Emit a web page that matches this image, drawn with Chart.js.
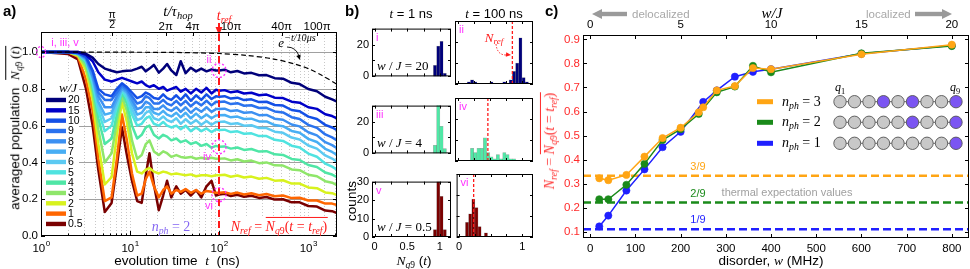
<!DOCTYPE html>
<html>
<head>
<meta charset="utf-8">
<script src="https://cdn.jsdelivr.net/npm/chart.js@4.4.1/dist/chart.umd.min.js"></script>
<style>
  html, body { margin: 0; padding: 0; background: #fff; }
  body { width: 970px; height: 269px; position: relative; overflow: hidden; font-family: "Liberation Sans", Arial, sans-serif; color: #000; }
  .cv { position: absolute; }
  .cv canvas { display: block; }
  .t { position: absolute; white-space: nowrap; line-height: 1; transform: translate(-50%, -50%); z-index: 5; }
  .t.l { transform: translate(0, -50%); }
  .t.v { transform: translate(-50%, -50%) rotate(-90deg); }
  .pl { position: absolute; font-weight: bold; font-size: 15px; line-height: 1; z-index: 5; }
  .m { font-family: "Liberation Serif", "DejaVu Serif", serif; font-style: italic; }
  .s { font-family: "Liberation Serif", "DejaVu Serif", serif; }
  .u { font-style: normal; }
  .ov { display: inline-block; border-top: 1px solid currentColor; padding-top: 1px; line-height: 1.15; }
  sub { font-size: 70%; vertical-align: -0.3em; line-height: 0; }
  sup { font-size: 78%; vertical-align: 0.55em; line-height: 0; }
</style>
</head>
<body>
<div class="cv" style="left:0;top:0"><canvas id="chartA" width="345" height="269"></canvas></div>
<div class="cv" style="left:540px;top:0"><canvas id="chartC" width="430" height="269"></canvas></div>

<!-- panel a text -->
<div class="pl" style="left:3px;top:3px">a)</div>
<div class="t m" style="left:178px;top:11px;font-size:15px">t/τ<sub>hop</sub></div>
<div class="t m" style="left:224px;top:16px;font-size:14px;color:#ff1a1a">t<sub>ref</sub></div>
<div class="t m" style="left:297px;top:42px;font-size:13px">e<sup>−t/10μs</sup></div>
<div class="t v" style="left:14px;top:128px;font-size:13.5px">averaged population&nbsp;&nbsp;<span class="m ov">N<sub>q<span class="u">9</span></sub><span class="u">&thinsp;(</span>t<span class="u">)</span></span></div>
<div class="t" style="left:177px;top:261px;font-size:13.5px">evolution time&nbsp; <span class="m">t</span>&nbsp; (ns)</div>
<div class="t m" style="left:171px;top:227px;font-size:14px;color:#8466f2;background:#fff;padding:0 2px">n<sub>ph</sub><span class="u"> = 2</span></div>
<div class="t m" style="left:279px;top:226px;font-size:14px;color:#ff1a1a;background:#fff;padding:0 2px">N<sub>ref</sub><span class="u"> = </span><span class="ov">N<sub>q<span class="u">9</span></sub><span class="u">(</span>t<span class="u"> = </span>t<sub>ref</sub><span class="u">)</span></span></div>

<!-- panel b text -->
<div class="pl" style="left:345px;top:3px">b)</div>
<div class="t" style="left:411px;top:13px;font-size:13px"><span class="m">t</span> = 1 ns</div>
<div class="t" style="left:494px;top:13px;font-size:13px"><span class="m">t</span> = 100 ns</div>
<div class="t v" style="left:352px;top:201px;font-size:13.5px">counts</div>
<div class="t" style="left:414px;top:261px;font-size:13.5px"><span class="m">N<sub>q<span class="u">9</span></sub></span> (<span class="m">t</span>)</div>
<div class="t m" style="left:494px;top:37px;font-size:13px;color:#ff1a1a">N<sub>ref</sub></div>

<!-- panel c text -->
<div class="pl" style="left:545px;top:3px">c)</div>
<div class="t m" style="left:772px;top:13px;font-size:15px">w/J</div>
<div class="t v" style="left:549px;top:141px;font-size:14px;color:#ff2a2a"><span class="m">N<sub>ref</sub></span><span class="s"> = </span><span class="m ov">N<sub>q<span class="u">9</span></sub><span class="u">(</span>t<span class="u"> = </span>t<sub>ref</sub><span class="u">)</span></span></div>
<div class="t" style="left:771px;top:261px;font-size:13.5px">disorder, <span class="m">w</span> (MHz)</div>
<div class="t l m" style="left:782px;top:102px;font-size:14px">n<sub>ph</sub><span class="u"> = 3</span></div>
<div class="t l m" style="left:782px;top:122px;font-size:14px">n<sub>ph</sub><span class="u"> = 2</span></div>
<div class="t l m" style="left:782px;top:143px;font-size:14px">n<sub>ph</sub><span class="u"> = 1</span></div>
<div class="t m" style="left:840px;top:87px;font-size:12px">q<sub class="u">1</sub></div>
<div class="t m" style="left:955px;top:87px;font-size:12px">q<sub class="u">9</sub></div>

<script>
// ---------- panel a: averaged population vs evolution time ----------
const T_NS = [1, 2, 2.6, 3.2, 3.8, 4.4, 5.2, 6.2, 7.1, 8.1, 9.2, 10.5, 12, 13.5, 15, 16.5, 18.5, 21, 23.5, 26,
  29, 33, 37, 42, 48, 55, 63, 72, 82, 92, 100, 115, 135, 160, 190, 230, 280, 340, 420, 520,
  650, 800, 1000, 1250, 1550, 1850, 2100];

const W20 = [1.0, 1.0, 1.0, 0.99, 0.97, 0.935, 0.91, 0.898, 0.89, 0.895, 0.898, 0.90, 0.91, 0.92, 0.895, 0.91, 0.93, 0.888, 0.91, 0.935,
  0.90, 0.875, 0.95, 0.885, 0.915, 0.895, 0.91, 0.895, 0.905, 0.90,
  0.90, 0.904, 0.89, 0.897, 0.884, 0.887, 0.874, 0.875, 0.858, 0.855, 0.833, 0.826, 0.799, 0.787, 0.757, 0.743, 0.73];
const W15 = [1.0, 1.0, 1.0, 0.985, 0.95, 0.89, 0.85, 0.84, 0.85, 0.86, 0.85, 0.84, 0.83, 0.84, 0.82, 0.81, 0.82, 0.80, 0.81, 0.79,
  0.80, 0.81, 0.785, 0.80, 0.775, 0.80, 0.78, 0.805, 0.775, 0.795,
  0.79, 0.793, 0.781, 0.787, 0.775, 0.779, 0.765, 0.769, 0.752, 0.75, 0.73, 0.725, 0.70, 0.691, 0.662, 0.652, 0.64];
const W10 = [1.0, 1.0, 0.995, 0.975, 0.90, 0.80, 0.77, 0.76, 0.80, 0.83, 0.81, 0.78, 0.75, 0.76, 0.78, 0.77, 0.75, 0.745, 0.77, 0.75,
  0.74, 0.765, 0.74, 0.77, 0.735, 0.765, 0.74, 0.77, 0.745, 0.76,
  0.757, 0.76, 0.747, 0.752, 0.739, 0.743, 0.728, 0.73, 0.712, 0.709, 0.685, 0.678, 0.649, 0.636, 0.604, 0.59, 0.576];
const W9 = [1.0, 1.0, 0.995, 0.97, 0.89, 0.78, 0.74, 0.74, 0.78, 0.82, 0.80, 0.76, 0.72, 0.73, 0.76, 0.75, 0.72, 0.72, 0.74, 0.72,
  0.71, 0.735, 0.71, 0.735, 0.705, 0.73, 0.71, 0.735, 0.71, 0.73,
  0.728, 0.731, 0.717, 0.722, 0.708, 0.711, 0.696, 0.697, 0.677, 0.672, 0.646, 0.636, 0.604, 0.588, 0.552, 0.536, 0.52];
const W8 = [1.0, 1.0, 0.995, 0.965, 0.87, 0.76, 0.70, 0.70, 0.76, 0.81, 0.79, 0.74, 0.69, 0.70, 0.73, 0.72, 0.69, 0.69, 0.71, 0.69,
  0.68, 0.70, 0.675, 0.70, 0.67, 0.695, 0.675, 0.70, 0.675, 0.69,
  0.69, 0.692, 0.679, 0.683, 0.67, 0.673, 0.657, 0.658, 0.638, 0.632, 0.606, 0.596, 0.564, 0.547, 0.51, 0.494, 0.477];
const W7 = [1.0, 1.0, 0.99, 0.96, 0.86, 0.73, 0.66, 0.67, 0.74, 0.80, 0.78, 0.72, 0.66, 0.67, 0.70, 0.70, 0.67, 0.66, 0.68, 0.66,
  0.65, 0.67, 0.645, 0.67, 0.64, 0.665, 0.64, 0.66, 0.64, 0.655,
  0.656, 0.658, 0.645, 0.649, 0.636, 0.638, 0.623, 0.623, 0.603, 0.597, 0.571, 0.561, 0.528, 0.511, 0.474, 0.457, 0.44];
const W6 = [1.0, 1.0, 0.99, 0.955, 0.85, 0.71, 0.62, 0.64, 0.72, 0.80, 0.77, 0.69, 0.63, 0.64, 0.67, 0.68, 0.64, 0.63, 0.65, 0.63,
  0.62, 0.64, 0.61, 0.635, 0.61, 0.63, 0.605, 0.625, 0.605, 0.62,
  0.62, 0.622, 0.609, 0.613, 0.60, 0.602, 0.587, 0.587, 0.567, 0.561, 0.535, 0.525, 0.492, 0.475, 0.438, 0.421, 0.404];
const W5 = [1.0, 1.0, 0.99, 0.95, 0.83, 0.68, 0.57, 0.60, 0.70, 0.79, 0.75, 0.66, 0.60, 0.61, 0.64, 0.65, 0.61, 0.60, 0.62, 0.60,
  0.59, 0.60, 0.58, 0.60, 0.57, 0.59, 0.57, 0.585, 0.565, 0.58,
  0.576, 0.578, 0.565, 0.569, 0.556, 0.558, 0.543, 0.543, 0.523, 0.517, 0.491, 0.481, 0.448, 0.431, 0.394, 0.377, 0.36];
const W4 = [1.0, 1.0, 0.99, 0.94, 0.81, 0.64, 0.50, 0.53, 0.66, 0.78, 0.72, 0.60, 0.53, 0.55, 0.59, 0.60, 0.55, 0.53, 0.55, 0.54,
  0.52, 0.53, 0.51, 0.52, 0.50, 0.51, 0.49, 0.50, 0.48, 0.49,
  0.485, 0.487, 0.475, 0.481, 0.468, 0.473, 0.459, 0.461, 0.444, 0.441, 0.419, 0.413, 0.386, 0.375, 0.345, 0.334, 0.32];
const W3 = [1.0, 1.0, 0.985, 0.92, 0.78, 0.58, 0.40, 0.45, 0.62, 0.76, 0.68, 0.52, 0.42, 0.44, 0.50, 0.52, 0.46, 0.44, 0.46, 0.45,
  0.43, 0.44, 0.43, 0.425, 0.43, 0.42, 0.425, 0.42, 0.425, 0.42,
  0.42, 0.422, 0.411, 0.417, 0.405, 0.41, 0.396, 0.40, 0.384, 0.383, 0.362, 0.358, 0.333, 0.325, 0.298, 0.29, 0.277];
const W2 = [1.0, 1.0, 0.98, 0.90, 0.74, 0.50, 0.28, 0.32, 0.55, 0.73, 0.62, 0.45, 0.35, 0.34, 0.36, 0.37, 0.35, 0.34, 0.35, 0.345,
  0.335, 0.34, 0.335, 0.33, 0.335, 0.325, 0.33, 0.33, 0.325, 0.33,
  0.33, 0.333, 0.322, 0.329, 0.318, 0.323, 0.311, 0.316, 0.301, 0.303, 0.285, 0.285, 0.264, 0.26, 0.237, 0.233, 0.223];
const W1 = [1.0, 1.0, 0.975, 0.85, 0.68, 0.42, 0.19, 0.21, 0.42, 0.66, 0.52, 0.34, 0.22, 0.23, 0.31, 0.35, 0.27, 0.21, 0.25, 0.27,
  0.23, 0.25, 0.24, 0.255, 0.235, 0.25, 0.23, 0.245, 0.24, 0.235,
  0.235, 0.238, 0.229, 0.236, 0.226, 0.232, 0.222, 0.228, 0.216, 0.22, 0.206, 0.208, 0.193, 0.193, 0.176, 0.176, 0.168];
const W05 = [1.0, 0.99, 0.96, 0.80, 0.60, 0.36, 0.13, 0.18, 0.38, 0.59, 0.44, 0.30, 0.19, 0.18, 0.33, 0.45, 0.28, 0.14, 0.22, 0.30,
  0.21, 0.27, 0.23, 0.25, 0.22, 0.25, 0.21, 0.27, 0.30, 0.22,
  0.225, 0.229, 0.217, 0.224, 0.213, 0.219, 0.207, 0.212, 0.198, 0.20, 0.183, 0.183, 0.163, 0.16, 0.138, 0.135, 0.125];

const W_LABELS = ['20', '15', '10', '9', '8', '7', '6', '5', '4', '3', '2', '1', '0.5'];
const W_COLORS = ['#00007a', '#0000c8', '#1450e6', '#2a72ee', '#3c90f2', '#48aef4', '#5ccaf2',
  '#4fe3e0', '#4fe6a6', '#8fe66a', '#d8f21e', '#ff6600', '#7a0000'];

// dashed reference decay e^{-t/10us}
const DECAY_T = [1, 30, 100, 200, 400, 700, 1000, 1400, 2100];
const DECAY_V = [1.0, 0.998, 0.992, 0.982, 0.963, 0.935, 0.91, 0.875, 0.825];

const T_REF = 100;
const TAU_HOP = 4; // ns
const TOP_TICK_MULT = [0.5, 2, 4, 10, 40, 100];
const TOP_TICK_TEXT = ['π/2', '2π', '4π', '10π', '40π', '100π'];
const A_X_LABELS = [1, 10, 100, 1000];

// ---------- panel b: histograms ----------
const HIST_BINS = [0.025, 0.075, 0.125, 0.175, 0.225, 0.275, 0.325, 0.375, 0.425, 0.475, 0.525, 0.575,
  0.625, 0.675, 0.725, 0.775, 0.825, 0.875, 0.925, 0.975, 1.025, 1.075, 1.125];
const HIST_I   = [0, 0, 0, 0, 0, 0, 0, 0, 0, 0, 0, 0, 0, 0, 0, 0, 0, 0, 7, 19, 22, 2, 0];
const HIST_II  = [0, 0, 0, 1, 2, 1, 0, 0, 0, 0, 1, 0, 0, 0, 1, 0, 2, 6, 10, 22, 3, 1, 0];
const HIST_III = [0, 0, 0, 0, 0, 0, 0, 0, 0, 0, 0, 0, 0, 0, 0, 0, 0, 0, 5, 31, 17, 3, 0];
const HIST_IV  = [0, 0, 0, 0, 6, 4, 6, 6, 11, 4, 2, 1, 3, 1, 4, 3, 1, 1, 0, 0, 0, 0, 0];
const HIST_V   = [0, 0, 0, 0, 0, 0, 0, 0, 0, 0, 0, 0, 0, 0, 0, 0, 0, 0, 4, 30, 22, 4, 0];
const HIST_VI  = [0, 0, 7, 11, 18, 14, 5, 0, 2, 0, 0, 0, 0, 0, 0, 0, 0, 0, 0, 0, 0, 0, 0];
const HIST_NREF = [null, 0.85, null, 0.47, null, 0.23];
const HIST_TAGS = ['i', 'ii', 'iii', 'iv', 'v', 'vi'];
const HIST_WJ = ['20', null, '4', null, '0.5', null];
const HIST_COLORS = ['#00007a', '#00007a', '#4fe8a6', '#4fe8a6', '#7a0000', '#7a0000'];

// ---------- panel c: N_ref vs disorder ----------
const W_N3 = [20, 40, 80, 120, 160, 200, 240, 250, 280, 320, 360, 400, 600, 800];
const N3 = [0.323, 0.315, 0.337, 0.413, 0.49, 0.533, 0.597, 0.618, 0.688, 0.706, 0.781, 0.776, 0.838, 0.878];
const W_N2 = [20, 40, 80, 120, 160, 200, 240, 280, 320, 360, 400, 600, 800];
const N2 = [0.236, 0.236, 0.296, 0.383, 0.482, 0.527, 0.59, 0.68, 0.704, 0.79, 0.763, 0.842, 0.872];
const W_N1 = [20, 40, 80, 120, 160, 200, 250, 280, 320, 360, 400, 600, 800];
const N1 = [0.123, 0.168, 0.272, 0.36, 0.452, 0.516, 0.64, 0.688, 0.745, 0.765, 0.776, 0.84, 0.874];
const THERMAL = [1 / 9, 2 / 9, 3 / 9];
const THERMAL_TEXT = ['1/9', '2/9', '3/9'];
const EXCITED = [[3, 5, 8], [5, 8], [8]]; // n_ph = 3, 2, 1
const C_COLORS = ['#ffa514', '#1a8a1a', '#1f1fff']; // n_ph = 3, 2, 1
const J_MHZ = 40;
const W_MIN = -16, W_MAX = 838;

Chart.defaults.font.family = '"Liberation Sans", Arial, sans-serif';
Chart.defaults.font.size = 11;
Chart.defaults.color = '#000';

const SANS = '"Liberation Sans", Arial, sans-serif';
const SERIF = '"Liberation Serif", "DejaVu Serif", serif';

// inward tick marks
function inTicks(ctx, a, scale, values, side, len) {
  ctx.beginPath();
  values.forEach(v => {
    const p = Math.round(scale.getPixelForValue(v)) + 0.5;
    if (side === 'bottom') { ctx.moveTo(p, a.bottom); ctx.lineTo(p, a.bottom - len); }
    if (side === 'top') { ctx.moveTo(p, a.top); ctx.lineTo(p, a.top + len); }
    if (side === 'left') { ctx.moveTo(a.left, p); ctx.lineTo(a.left + len, p); }
    if (side === 'right') { ctx.moveTo(a.right, p); ctx.lineTo(a.right - len, p); }
  });
  ctx.stroke();
}

function frame(ctx, a) {
  ctx.strokeStyle = '#000';
  ctx.lineWidth = 1;
  ctx.strokeRect(a.left + 0.5, a.top + 0.5, a.width - 1, a.height - 1);
}

function arrowHead(ctx, x, y, ang, len, half) {
  const c = Math.cos(ang), s = Math.sin(ang);
  ctx.beginPath();
  ctx.moveTo(x, y);
  ctx.lineTo(x - len * c + half * s, y - len * s - half * c);
  ctx.lineTo(x - len * c - half * s, y - len * s + half * c);
  ctx.closePath();
  ctx.fill();
}

// text runs: [text, italic]
function drawRuns(ctx, runs, x, y, size) {
  let cx = x;
  runs.forEach(([txt, it]) => {
    ctx.font = (it ? 'italic ' : '') + size + 'px ' + SERIF;
    ctx.fillText(txt, cx, y);
    cx += ctx.measureText(txt).width;
  });
}

// ================= PANEL A =================
const panelAPlugin = {
  id: 'panelA',
  beforeDatasetsDraw(chart) {
    const { ctx, chartArea: a, scales: { x, y } } = chart;
    ctx.save();
    ctx.lineWidth = 1;
    ctx.strokeStyle = '#c8c8c8';
    ctx.setLineDash([1, 2]);
    x.ticks.forEach(tk => {
      if (tk.value <= x.min || tk.value >= x.max) return;
      const px = Math.round(x.getPixelForValue(tk.value)) + 0.5;
      ctx.beginPath(); ctx.moveTo(px, a.top); ctx.lineTo(px, a.bottom); ctx.stroke();
    });
    ctx.setLineDash([]);
    ctx.strokeStyle = '#a0a0a0';
    y.ticks.forEach(tk => {
      if (tk.value <= y.min) return;
      const py = Math.round(y.getPixelForValue(tk.value)) + 0.5;
      ctx.beginPath(); ctx.moveTo(a.left, py); ctx.lineTo(a.right, py); ctx.stroke();
    });
    ctx.restore();
  },
  afterDatasetsDraw(chart) {
    const { ctx, chartArea: a, scales: { x, y } } = chart;
    ctx.save();

    // t_ref marker
    const xr = Math.round(x.getPixelForValue(T_REF));
    ctx.strokeStyle = '#ff1a1a';
    ctx.fillStyle = '#ff1a1a';
    ctx.lineWidth = 2;
    ctx.setLineDash([7, 4]);
    ctx.beginPath(); ctx.moveTo(xr, a.top + 2); ctx.lineTo(xr, a.bottom); ctx.stroke();
    ctx.setLineDash([]);
    ctx.beginPath(); ctx.moveTo(xr, 23); ctx.lineTo(xr, 28); ctx.stroke();
    arrowHead(ctx, xr, 35, Math.PI / 2, 8, 3.5);

    // magenta markers i..vi
    ctx.strokeStyle = '#ff33ff';
    ctx.lineWidth = 1.4;
    ctx.setLineDash([2, 2]);
    const ring = (px, py, rx, ry) => { ctx.beginPath(); ctx.ellipse(px, py, rx, ry, 0, 0, Math.PI * 2); ctx.stroke(); };
    ring(x.getPixelForValue(T_NS[0]), y.getPixelForValue(W20[0]), 4.5, 5.5);
    const iRef = T_NS.indexOf(T_REF);
    const refY = [W20, W4, W05].map(c => y.getPixelForValue(c[iRef]));
    refY.forEach(py => ring(xr, py, 7, 7));
    ctx.setLineDash([]);
    ctx.fillStyle = '#ff33ff';
    ctx.font = '11px ' + SANS;
    ctx.textAlign = 'center';
    ctx.textBaseline = 'middle';
    ctx.fillText('i, iii, v', 65, 43);
    ctx.fillText('ii', xr - 10, refY[0] - 10);
    ctx.fillText('iv', xr - 12, refY[1] + 10);
    ctx.fillText('vi', xr - 10, refY[2] + 11);

    // legend w/J
    ctx.fillStyle = '#fff';
    ctx.fillRect(43, 82, 36, 148);
    ctx.fillStyle = '#000';
    ctx.font = 'italic 13px ' + SERIF;
    ctx.fillText('w/J', 68, 89);
    W_LABELS.forEach((lab, i) => {
      const ly = 100 + i * 10.33;
      ctx.fillStyle = W_COLORS[i];
      ctx.fillRect(46, ly - 2.2, 20, 4.4);
      ctx.fillStyle = '#000';
      ctx.font = '10.5px ' + SANS;
      ctx.textAlign = 'left';
      ctx.fillText(lab, 68, ly + 0.5);
    });

    // frame and inward ticks
    frame(ctx, a);
    const yv = y.ticks.map(t => t.value);
    inTicks(ctx, a, y, yv, 'left', 4);
    inTicks(ctx, a, y, yv, 'right', 4);
    const xv = x.ticks.map(t => t.value).filter(v => v > x.min && v < x.max);
    inTicks(ctx, a, x, xv.filter(v => Number.isInteger(Math.log10(v))), 'bottom', 5);
    inTicks(ctx, a, x, xv.filter(v => !Number.isInteger(Math.log10(v))), 'bottom', 2.5);
    const topVals = TOP_TICK_MULT.map(m => m * Math.PI * TAU_HOP);
    inTicks(ctx, a, x, topVals, 'top', 4);

    // bottom labels 10^k
    ctx.fillStyle = '#000';
    ctx.textAlign = 'left';
    ctx.textBaseline = 'alphabetic';
    A_X_LABELS.forEach(v => {
      const px = x.getPixelForValue(v);
      const e = String(Math.round(Math.log10(v)));
      ctx.font = '11.5px ' + SANS;
      const w1 = ctx.measureText('10').width;
      ctx.font = '8px ' + SANS;
      const w2 = ctx.measureText(e).width;
      const x0 = px - (w1 + w2) / 2;
      ctx.font = '11.5px ' + SANS;
      ctx.fillText('10', x0, a.bottom + 16);
      ctx.font = '8px ' + SANS;
      ctx.fillText(e, x0 + w1 + 0.5, a.bottom + 10);
    });

    // top labels in units of tau_hop
    ctx.textAlign = 'center';
    ctx.textBaseline = 'middle';
    topVals.forEach((v, i) => {
      const px = x.getPixelForValue(v);
      const txt = TOP_TICK_TEXT[i];
      if (txt.includes('/')) {
        const [num, den] = txt.split('/');
        ctx.font = '10.5px ' + SANS;
        ctx.fillText(num, px, 15);
        ctx.fillRect(px - 3.5, 19.5, 7, 0.9);
        ctx.fillText(den, px, 25.5);
      } else {
        ctx.font = '11.5px ' + SANS;
        ctx.fillText(txt, px + (v > 100 && v < 200 ? 3 : 0), 26.5);
      }
    });

    // arrow pointing to the decay curve
    ctx.strokeStyle = '#000';
    ctx.fillStyle = '#000';
    ctx.lineWidth = 0.9;
    ctx.beginPath(); ctx.moveTo(287, 47); ctx.quadraticCurveTo(296, 47, 299, 56); ctx.stroke();
    arrowHead(ctx, 300, 60, 1.25, 5, 2.3);
    ctx.restore();
  }
};

const curveData = [W20, W15, W10, W9, W8, W7, W6, W5, W4, W3, W2, W1, W05];
const datasetsA = [{
  label: 'decay',
  data: DECAY_T.map((t, k) => ({ x: t, y: DECAY_V[k] })),
  borderColor: '#000', borderWidth: 1.2, borderDash: [5, 3], pointRadius: 0, tension: 0.3, fill: false
}].concat(curveData.map((vals, i) => ({
  label: 'w/J = ' + W_LABELS[i],
  data: T_NS.map((t, k) => ({ x: t, y: vals[k] })),
  borderColor: W_COLORS[i], borderWidth: 2.5, pointRadius: 0, tension: 0, fill: false,
  borderJoinStyle: 'round'
})));

new Chart(document.getElementById('chartA'), {
  type: 'line',
  data: { datasets: datasetsA },
  options: {
    responsive: false, animation: false, devicePixelRatio: 1,
    layout: { padding: { top: 32, right: 8, left: 0, bottom: 0 }, autoPadding: false },
    plugins: { legend: { display: false }, tooltip: { enabled: false } },
    scales: {
      x: {
        type: 'logarithmic', min: 1, max: 2100,
        grid: { display: false, drawTicks: false }, border: { display: false },
        ticks: { display: false },
        afterFit: s => { s.height = 33; }
      },
      y: {
        type: 'linear', min: 0, max: 1.109,
        grid: { display: false, drawTicks: false }, border: { display: false },
        ticks: { stepSize: 0.2, includeBounds: false, autoSkip: false, padding: 3, font: { size: 11.5 },
          callback: v => v.toFixed(1) },
        afterFit: s => { s.width = 41; }
      }
    }
  },
  plugins: [panelAPlugin]
});

// ================= PANEL B =================
const HIST_COUNTS = [HIST_I, HIST_II, HIST_III, HIST_IV, HIST_V, HIST_VI];
const COL_LEFT = [372, 455], COL_W = [79, 78];
const ROW_TOP = [21, 98, 174], ROW_H = 63;

HIST_COUNTS.forEach((counts, k) => {
  const col = k % 2, row = Math.floor(k / 2);
  const padL = col === 0 ? 26 : 2, padR = 2, padT = 2, padB = row === 2 ? 20 : 2;
  const left = COL_LEFT[col] - padL, top = ROW_TOP[row] - padT;
  const wrap = document.createElement('div');
  wrap.className = 'cv';
  wrap.style.left = left + 'px';
  wrap.style.top = top + 'px';
  const cv = document.createElement('canvas');
  cv.width = COL_W[col] + padL + padR;
  cv.height = ROW_H + padT + padB;
  wrap.appendChild(cv);
  document.body.appendChild(wrap);

  const histPlugin = {
    id: 'hist' + k,
    afterDatasetsDraw(chart) {
      const { ctx, chartArea: a, scales: { x, y } } = chart;
      ctx.save();
      if (HIST_NREF[k] !== null) {
        const px = x.getPixelForValue(HIST_NREF[k]);
        ctx.strokeStyle = '#ff1a1a';
        ctx.lineWidth = 1.3;
        ctx.setLineDash([3, 2]);
        ctx.beginPath(); ctx.moveTo(px, a.top); ctx.lineTo(px, a.bottom); ctx.stroke();
        ctx.setLineDash([]);
      }
      if (k === 1) {
        // dotted arrow from the N_ref label
        ctx.strokeStyle = '#ff1a1a';
        ctx.fillStyle = '#ff1a1a';
        ctx.lineWidth = 1;
        ctx.setLineDash([1.5, 1.5]);
        ctx.beginPath();
        ctx.moveTo(496 - left, 44 - top);
        ctx.quadraticCurveTo(497 - left, 55 - top, 506 - left, 55 - top);
        ctx.stroke();
        ctx.setLineDash([]);
        arrowHead(ctx, 511 - left, 55 - top, 0.1, 5, 2.3);
      }
      frame(ctx, a);
      inTicks(ctx, a, y, y.ticks.map(t => t.value), 'left', 3);
      inTicks(ctx, a, y, y.ticks.map(t => t.value), 'right', 3);
      inTicks(ctx, a, x, x.ticks.map(t => t.value), 'bottom', 3);
      inTicks(ctx, a, x, x.ticks.map(t => t.value), 'top', 3);
      ctx.fillStyle = '#ff33ff';
      ctx.font = '11px ' + SANS;
      ctx.textAlign = 'left';
      ctx.textBaseline = 'middle';
      ctx.fillText(HIST_TAGS[k], a.left + 4, a.top + 9);
      if (HIST_WJ[k]) {
        ctx.fillStyle = '#000';
        ctx.textBaseline = 'alphabetic';
        drawRuns(ctx, [['w', true], [' / ', false], ['J', true], [' = ' + HIST_WJ[k], false]], a.left + 5, a.bottom - 6, 13);
      }
      ctx.restore();
    }
  };

  const yLabels = row === 2 ? [0, 10, 20, 30] : [0, 20];
  const xLabels = col === 0 ? [0, 0.5, 1] : [0, 1];
  new Chart(cv, {
    type: 'bar',
    data: {
      datasets: [{
        data: HIST_BINS.map((b, i) => ({ x: b, y: counts[i] > 0 ? counts[i] : null })),
        backgroundColor: HIST_COLORS[k],
        borderColor: 'rgba(0,0,0,0.35)',
        borderWidth: 0.5,
        barPercentage: 1, categoryPercentage: 1
      }]
    },
    options: {
      responsive: false, animation: false, devicePixelRatio: 1,
      layout: { padding: { top: padT, right: padR, left: 0, bottom: 0 }, autoPadding: false },
      plugins: { legend: { display: false }, tooltip: { enabled: false } },
      scales: {
        x: {
          type: 'linear', min: -0.04, max: 1.17, offset: false,
          grid: { display: false, drawTicks: false, offset: false }, border: { display: false },
          ticks: { display: row === 2, stepSize: 0.25, includeBounds: false, autoSkip: false, maxRotation: 0,
            padding: 3, font: { size: 11 },
            callback: v => (xLabels.includes(v) ? String(v) : '') },
          afterFit: s => { s.height = padB; }
        },
        y: {
          type: 'linear', min: 0, max: 30,
          grid: { display: false, drawTicks: false }, border: { display: false },
          ticks: { display: col === 0, stepSize: 10, autoSkip: false, padding: 3, font: { size: 11 },
            callback: v => (yLabels.includes(v) ? String(v) : '') },
          afterFit: s => { s.width = padL; }
        }
      }
    },
    plugins: [histPlugin]
  });
});

// ================= PANEL C =================
const C_LEFT = 540;
const panelCPlugin = {
  id: 'panelC',
  afterDatasetsDraw(chart) {
    const { ctx, chartArea: a, scales: { x, x2, y } } = chart;
    ctx.save();
    frame(ctx, a);
    inTicks(ctx, a, x, x.ticks.map(t => t.value), 'bottom', 4);
    inTicks(ctx, a, x2, x2.ticks.map(t => t.value), 'top', 4);
    inTicks(ctx, a, y, y.ticks.map(t => t.value), 'left', 4);
    inTicks(ctx, a, y, y.ticks.map(t => t.value), 'right', 4);

    // thermal value labels
    ctx.font = '11px ' + SANS;
    ctx.textAlign = 'center';
    ctx.textBaseline = 'middle';
    const lblColors = [C_COLORS[2], C_COLORS[1], C_COLORS[0]];
    THERMAL.forEach((v, i) => {
      ctx.fillStyle = lblColors[i];
      ctx.fillText(THERMAL_TEXT[i], 698 - C_LEFT, y.getPixelForValue(v) - 9);
    });
    ctx.fillStyle = '#a0a0a0';
    ctx.fillText('thermal expectation values', 787 - C_LEFT, 193);

    // legend with qubit chains
    const rowsY = [101.7, 122.3, 143.3];
    rowsY.forEach((ry, r) => {
      ctx.fillStyle = C_COLORS[r];
      ctx.fillRect(757 - C_LEFT, ry - 2.5, 16, 5);
      ctx.strokeStyle = '#555';
      ctx.lineWidth = 0.9;
      ctx.beginPath();
      ctx.moveTo(840 - C_LEFT, ry); ctx.lineTo(956 - C_LEFT, ry); ctx.stroke();
      for (let q = 0; q < 9; q++) {
        const cx = 840 - C_LEFT + q * 14.5;
        ctx.beginPath();
        ctx.arc(cx, ry, 6.2, 0, Math.PI * 2);
        ctx.fillStyle = EXCITED[r].includes(q) ? '#7b55f2' : '#c8c8c8';
        ctx.fill();
        ctx.stroke();
      }
    });

    // delocalized / localized arrows
    ctx.fillStyle = '#9a9a9a';
    const ay = 14;
    arrowHead(ctx, 592 - C_LEFT, ay, Math.PI, 10, 5);
    ctx.fillRect(601 - C_LEFT, ay - 2.2, 26, 4.4);
    arrowHead(ctx, 952 - C_LEFT, ay, 0, 10, 5);
    ctx.fillRect(915 - C_LEFT, ay - 2.2, 28, 4.4);
    ctx.fillStyle = '#a8a8a8';
    ctx.font = '11.5px ' + SANS;
    ctx.textAlign = 'left';
    ctx.fillText('delocalized', 632 - C_LEFT, ay + 1);
    ctx.fillText('localized', 866 - C_LEFT, ay + 1);
    ctx.restore();
  }
};

const seriesC = [[W_N3, N3], [W_N2, N2], [W_N1, N1]];
const datasetsC = seriesC.map(([ws, vs], i) => ({
  data: ws.map((w, k) => ({ x: w, y: vs[k] })),
  borderColor: C_COLORS[i], backgroundColor: C_COLORS[i],
  borderWidth: 1.5, pointRadius: 3.6, pointBorderWidth: 0.6, pointBorderColor: C_COLORS[i],
  tension: 0, fill: false
})).concat(THERMAL.slice().reverse().map((v, i) => ({
  data: [{ x: W_MIN, y: v }, { x: W_MAX, y: v }],
  borderColor: C_COLORS[i], borderWidth: 2.6, borderDash: [8, 4], pointRadius: 0, fill: false
})));

new Chart(document.getElementById('chartC'), {
  type: 'line',
  data: { datasets: datasetsC },
  options: {
    responsive: false, animation: false, devicePixelRatio: 1,
    layout: { padding: { top: 0, right: 1, left: 0, bottom: 0 }, autoPadding: false },
    plugins: { legend: { display: false }, tooltip: { enabled: false } },
    scales: {
      x: {
        type: 'linear', position: 'bottom', min: W_MIN, max: W_MAX,
        grid: { display: false, drawTicks: false }, border: { display: false },
        ticks: { stepSize: 100, includeBounds: false, autoSkip: false, maxRotation: 0, padding: 4, font: { size: 11.5 } },
        afterFit: s => { s.height = 31; }
      },
      x2: {
        type: 'linear', position: 'top', min: W_MIN / J_MHZ, max: W_MAX / J_MHZ,
        grid: { display: false, drawTicks: false }, border: { display: false },
        ticks: { stepSize: 2.5, includeBounds: false, autoSkip: false, maxRotation: 0, padding: 3, font: { size: 11.5 },
          callback: v => (v % 5 === 0 ? String(v) : '') },
        afterFit: s => { s.height = 35; }
      },
      y: {
        type: 'linear', min: 0.075, max: 0.918,
        grid: { display: false, drawTicks: false }, border: { display: false },
        ticks: { stepSize: 0.1, includeBounds: false, autoSkip: false, padding: 3, color: '#ff2a2a', font: { size: 11.5 },
          callback: v => v.toFixed(1) },
        afterFit: s => { s.width = 43; }
      }
    }
  },
  plugins: [panelCPlugin]
});
</script>
</body>
</html>
